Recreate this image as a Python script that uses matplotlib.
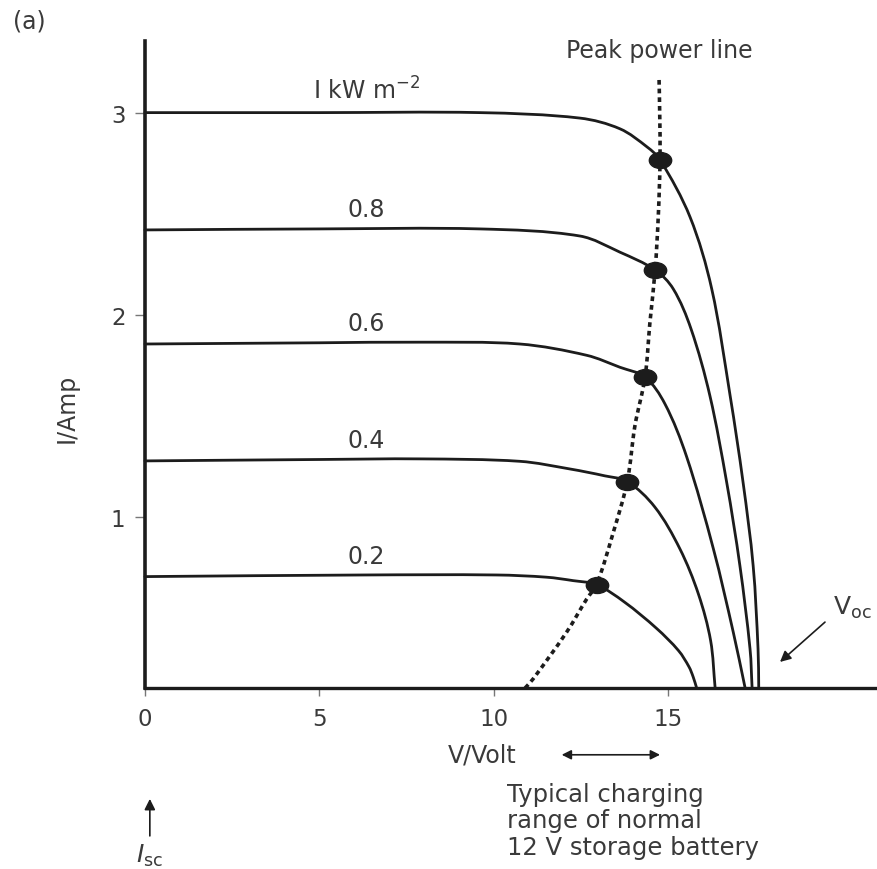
import matplotlib
matplotlib.use("Agg")
import matplotlib.pyplot as plt
import numpy as np
from matplotlib.markers import MarkerStyle
from matplotlib.path import Path
from matplotlib.patches import PathPatch
from matplotlib.transforms import Affine2D

# ── Data ──────────────────────────────────────────────────────────────────────

v_1_0 = [0, 5, 9.6, 12.47, 13.62, 14.4, 14.77, 15.63, 16.25, 16.78, 17.15, 17.44, 17.58, 17.6]
i_1_0 = [3.0, 3.0, 3.0, 2.973, 2.92, 2.83, 2.767, 2.484, 2.13, 1.60, 1.173, 0.76, 0.349, 0.155]

v_0_8 = [0, 5, 9.6, 12.47, 13.62, 14.63, 15.15, 15.66, 16.2, 16.68, 17.06, 17.35, 17.41]
i_0_8 = [2.42, 2.425, 2.425, 2.39, 2.31, 2.222, 2.128, 1.93, 1.6, 1.173, 0.76, 0.349, 0.155]

v_0_6 = [0, 5, 7.89, 10.75, 12.67, 13.62, 14.34, 14.91, 15.53, 16.3, 16.87, 17.21]
i_0_6 = [1.856, 1.862, 1.865, 1.856, 1.80, 1.741, 1.692, 1.56, 1.30, 0.843, 0.431, 0.155]

v_0_4 = [0, 5, 7.89, 10.75, 12.19, 13.19, 13.83, 14.62, 15.34, 15.87, 16.22, 16.35]
i_0_4 = [1.278, 1.285, 1.288, 1.276, 1.238, 1.204, 1.176, 1.05, 0.843, 0.62, 0.39, 0.155]

v_0_2 = [0, 6.26, 10.08, 11.52, 12.28, 12.95, 13.75, 14.67, 15.3, 15.6, 15.72, 15.82]
i_0_2 = [0.706, 0.714, 0.714, 0.703, 0.686, 0.666, 0.58, 0.45, 0.34, 0.26, 0.21, 0.155]

curves = [(v_1_0, i_1_0), (v_0_8, i_0_8), (v_0_6, i_0_6), (v_0_4, i_0_4), (v_0_2, i_0_2)]
levels = [3.0, 2.42, 1.856, 1.278, 0.706]
labels = ["I kW m$^{\\mathregular{-2}}$", "0.8", "0.6", "0.4", "0.2"]

peak_v = [10.9, 11.13, 12.09, 12.67, 12.95, 13.43, 13.83, 14.05, 14.34, 14.48, 14.63, 14.72, 14.77, 14.76, 14.74]
peak_i = [0.155, 0.2, 0.431, 0.596, 0.666, 0.925, 1.176, 1.452, 1.692, 1.963, 2.222, 2.49, 2.767, 3.0, 3.18]

dot_v = [12.95, 13.83, 14.34, 14.63, 14.77]
dot_i = [0.666, 1.176, 1.692, 2.222, 2.767]

x_ticks = [0, 5, 10, 15]
y_ticks = [1, 2, 3]


def smooth_path(ax, xs, ys):
    """Bezier path through the read points; tangents worked out in pixel space."""
    pts = ax.transData.transform(np.column_stack([xs, ys]))
    n = len(pts)
    tang = np.zeros_like(pts)
    for k in range(n):
        d = pts[min(k + 1, n - 1)] - pts[max(k - 1, 0)]
        tang[k] = d / np.hypot(*d)
    verts = [pts[0]]
    codes = [Path.MOVETO]
    for k in range(n - 1):
        seg = np.hypot(*(pts[k + 1] - pts[k])) / 3
        verts += [pts[k] + tang[k] * seg, pts[k + 1] - tang[k + 1] * seg, pts[k + 1]]
        codes += [Path.CURVE4] * 3
    verts = ax.transData.inverted().transform(np.array(verts))
    return Path(verts, codes)


# ── Figure ────────────────────────────────────────────────────────────────────

plt.rcParams["font.family"] = ["DejaVu Sans"]
plt.rcParams["mathtext.fontset"] = "dejavusans"

ink  = "#1c1c1c"
text = "#3a3a3a"
fs   = 17

fig = plt.figure(figsize=(8.78, 8.70), dpi=100)
ax = fig.add_axes([0.1651, 0.2080, 0.8349, 0.7437])
ax.set_xlim(0, 21.02)
ax.set_ylim(0.155, 3.354)

for v, i in curves:
    ax.add_patch(PathPatch(smooth_path(ax, v, i), facecolor="none", edgecolor=ink,
                           lw=2.0, capstyle="round", clip_on=False))

peak = PathPatch(smooth_path(ax, peak_v, peak_i), facecolor="none", edgecolor=ink,
                 lw=2.6, linestyle=(0, (1.3, 1.1)), clip_on=False)
ax.add_patch(peak)

dot = MarkerStyle("o", transform=Affine2D().scale(1.4, 1.0))
ax.plot(dot_v, dot_i, linestyle="none", marker=dot, color=ink, ms=11.5, zorder=5)

for lvl, lab in zip(levels, labels):
    ax.annotate(lab, (6.34, lvl), xytext=(0, 10), textcoords="offset points",
                ha="center", va="baseline", fontsize=fs, color=text)

# axes styling
for side in ["top", "right"]:
    ax.spines[side].set_visible(False)
ax.spines["left"].set_linewidth(2.6)
ax.spines["bottom"].set_linewidth(2.4)
ax.spines["left"].set_color(ink)
ax.spines["bottom"].set_color(ink)

ax.set_xticks(x_ticks)
ax.set_yticks(y_ticks)
ax.tick_params(axis="x", direction="out", length=6, width=1.0, color="#777777",
               pad=8, labelsize=16.5, labelcolor=text)
ax.tick_params(axis="y", direction="out", length=7, width=1.0, color="#777777",
               pad=7, labelsize=16.5, labelcolor=text)

# text + annotations
fig.text(29 / 878, 1 - 22 / 870, "(a)", fontsize=fs, color=text, ha="center", va="center")
fig.text(67 / 878, 1 - 408 / 870, "I/Amp", fontsize=fs, color=text, rotation=90,
         ha="center", va="center")

ax.text(14.74, 3.31, "Peak power line", fontsize=fs, color=text, ha="center", va="center")
ax.text(9.66, -0.175, "V/Volt", fontsize=fs, color=text, ha="center", va="center", clip_on=False)
ax.annotate("", xy=(11.95, -0.175), xytext=(14.77, -0.175), annotation_clip=False,
            arrowprops=dict(arrowstyle="<|-|>", color=ink, lw=1.2, mutation_scale=14,
                            shrinkA=0, shrinkB=0))
ax.text(10.37, -0.31, "Typical charging\nrange of normal\n12 V storage battery",
        fontsize=17.5, color=text, ha="left", va="top", linespacing=1.12, clip_on=False)

ax.text(19.73, 0.521, "V$_{\\mathregular{oc}}$", fontsize=18, color=text, ha="left",
        va="baseline")
ax.annotate("", xy=(18.21, 0.284), xytext=(19.5, 0.481),
            arrowprops=dict(arrowstyle="-|>", color=ink, lw=1.2, mutation_scale=16,
                            shrinkA=0, shrinkB=0))

ax.annotate("", xy=(0.14, -0.393), xytext=(0.14, -0.576), annotation_clip=False,
            arrowprops=dict(arrowstyle="-|>", color=ink, lw=1.2, mutation_scale=16,
                            shrinkA=0, shrinkB=0))
ax.text(0.14, -0.670, "$I_{\\mathregular{sc}}$", fontsize=18, color=text, ha="center",
        va="center", clip_on=False)

fig.savefig("out.png", dpi=100, facecolor="white")
